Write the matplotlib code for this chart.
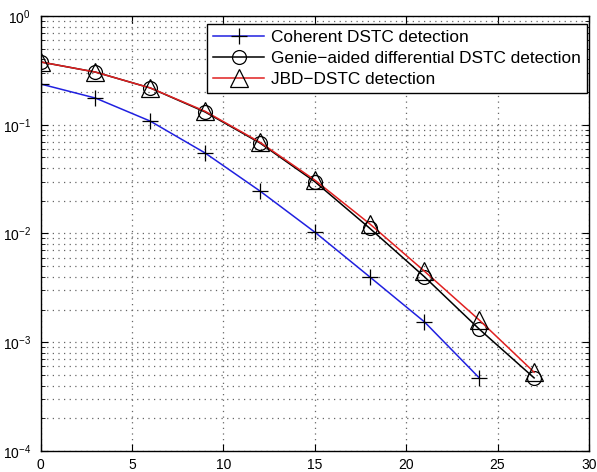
import numpy as np
import matplotlib
matplotlib.use('Agg')
import matplotlib.pyplot as plt
from matplotlib.ticker import LogLocator, NullFormatter, MultipleLocator

plt.rcParams['font.family'] = ['Liberation Sans', 'DejaVu Sans']
plt.rcParams['mathtext.fontset'] = 'custom'
plt.rcParams['mathtext.rm'] = 'Liberation Sans'

# SNR points (dB) and error rates
snr_coh = [0, 3, 6, 9, 12, 15, 18, 21, 24]
ber_coh = [0.237, 0.176, 0.108, 0.055, 0.0246, 0.0103, 0.0040, 0.00154, 0.00047]

snr_diff = [0, 3, 6, 9, 12, 15, 18, 21, 24, 27]
ber_genie = [0.378, 0.305, 0.218, 0.131, 0.068, 0.030, 0.0112, 0.0040, 0.00132, 0.00047]
ber_jbd = [0.378, 0.305, 0.218, 0.133, 0.069, 0.031, 0.0123, 0.0045, 0.0016, 0.00053]

labels = ['Coherent DSTC detection',
          'Genie\u2212aided differential DSTC detection',
          'JBD\u2212DSTC detection']

fig = plt.figure(figsize=(5.97, 4.72), dpi=100)
ax = fig.add_axes([0.068, 0.0445, 0.9185, 0.9216])

ax.semilogy(snr_coh, ber_coh, color='#2020e0', lw=1.1, marker='+', ms=11,
            mec='k', mew=0.9, label=labels[0])
ax.semilogy(snr_diff, ber_genie, color='k', lw=1.1, marker='o', ms=10,
            mfc='none', mec='k', mew=0.9, label=labels[1])
ax.semilogy(snr_diff, ber_jbd, color='#e02020', lw=1.1, marker='^', ms=13,
            mfc='none', mec='k', mew=0.9, label=labels[2])

ax.set_xlim(0, 30)
ax.set_ylim(1e-4, 1)
ax.xaxis.set_major_locator(MultipleLocator(5))
ax.yaxis.set_major_locator(LogLocator(base=10, numticks=10))
ax.yaxis.set_minor_locator(LogLocator(base=10, subs=np.arange(2, 10), numticks=20))
ax.yaxis.set_minor_formatter(NullFormatter())

ax.grid(True, which='major', color='#666666', lw=0.9, dashes=(1, 3.5))
ax.grid(True, which='minor', axis='y', color='#666666', lw=0.9, dashes=(1, 3.5))
ax.tick_params(which='both', direction='in', top=True, right=True, labelsize=10)
ax.tick_params(which='major', length=5)
ax.tick_params(which='minor', length=3)
ax.tick_params(axis='x', pad=5)
ax.tick_params(axis='y', pad=7)
for s in ax.spines.values():
    s.set_linewidth(1.0)

leg = ax.legend(loc='upper right', bbox_to_anchor=(0.9964, 0.9816), fontsize=12.4,
                handlelength=2.95, borderaxespad=0, fancybox=False, framealpha=1,
                edgecolor='k', borderpad=0.35, labelspacing=0.33, handletextpad=0.4)
leg.get_frame().set_linewidth(1.0)

fig.savefig('out.png', dpi=100)
